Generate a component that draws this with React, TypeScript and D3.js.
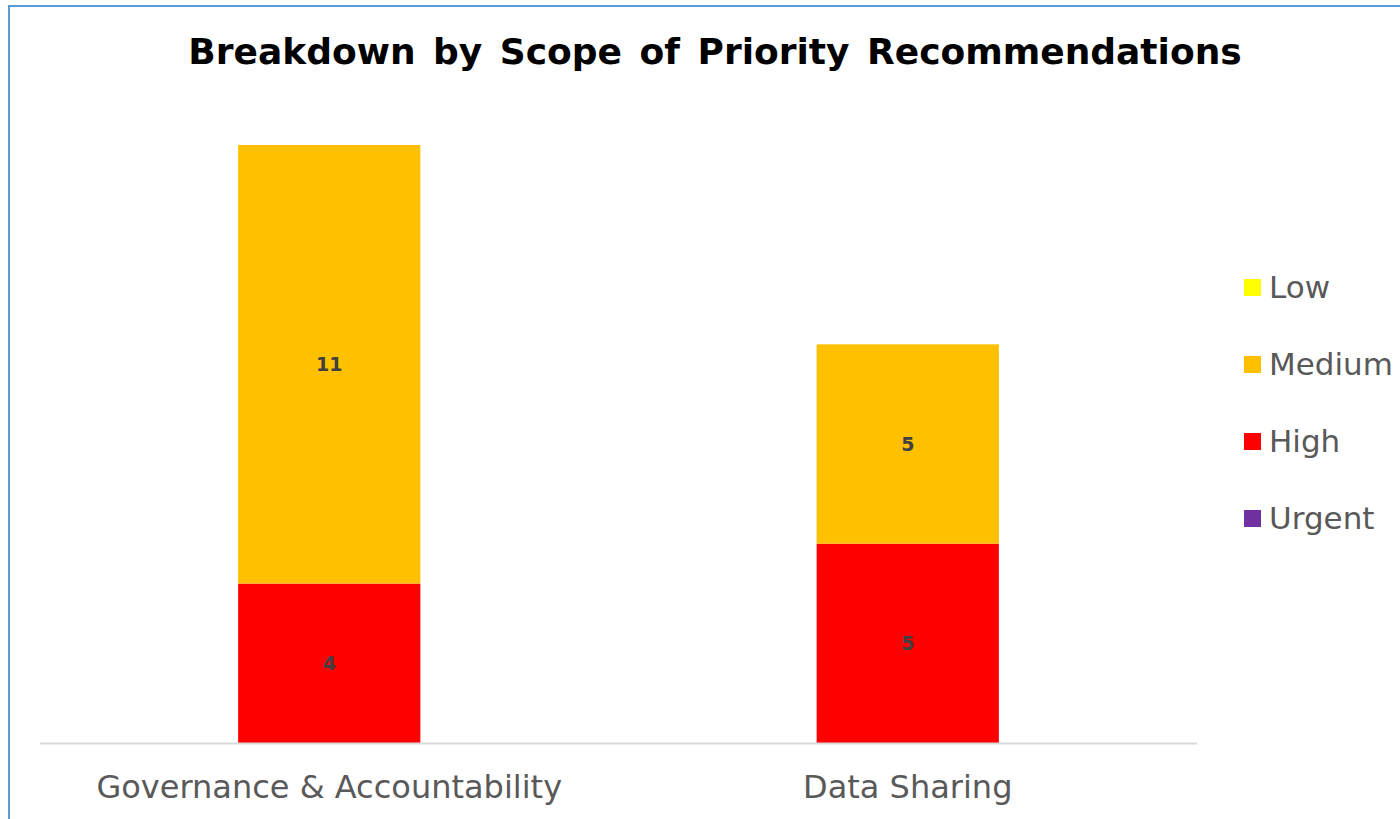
import { useEffect, useRef } from "react";
import * as d3 from "d3";

const categories = ["Governance & Accountability", "Data Sharing"];
const series = ["Urgent", "High", "Medium", "Low"];
const urgentValues = [0, 0];
const highValues = [4, 5];
const mediumValues = [11, 5];
const lowValues = [0, 0];
const legendOrder = ["Low", "Medium", "High", "Urgent"];
const colors: Record<string, string> = {
  Low: "#FFFF00",
  Medium: "#FFC000",
  High: "#FF0000",
  Urgent: "#7030A0",
};

const W = 1400;
const H = 819;

export default function App() {
  const svgRef = useRef<SVGSVGElement>(null);

  useEffect(() => {
    if (!svgRef.current) return;
    const svg = d3.select(svgRef.current);
    svg.selectAll("*").remove();

    const rows = categories.map((c, i) => ({
      category: c,
      Urgent: urgentValues[i],
      High: highValues[i],
      Medium: mediumValues[i],
      Low: lowValues[i],
    }));

    const font = "'DejaVu Sans', Verdana, sans-serif";

    // frame
    svg.append("rect")
      .attr("x", 9).attr("y", 6)
      .attr("width", W).attr("height", H)
      .attr("fill", "white")
      .attr("stroke", "#5B9BD5").attr("stroke-width", 2);

    // title
    svg.append("text")
      .attr("x", 715).attr("y", 64)
      .attr("text-anchor", "middle")
      .attr("font-family", font)
      .attr("font-weight", "bold")
      .attr("font-size", 36)
      .attr("word-spacing", 5)
      .attr("fill", "#000")
      .text("Breakdown by Scope of Priority Recommendations");

    const x = d3.scaleBand<string>().domain(categories).range([40, 1197]).padding(0);
    const y = d3.scaleLinear().domain([0, 15]).range([743, 145]);
    const barW = x.bandwidth() * 0.315;

    const stacked = d3.stack<any>().keys(series)(rows);

    const g = svg.append("g");
    stacked.forEach(layer => {
      const key = layer.key;
      layer.forEach((d, i) => {
        const v = d[1] - d[0];
        if (v <= 0) return;
        const cx = x(categories[i])! + x.bandwidth() / 2;
        g.append("rect")
          .attr("x", cx - barW / 2)
          .attr("y", y(d[1]))
          .attr("width", barW)
          .attr("height", y(d[0]) - y(d[1]))
          .attr("fill", colors[key]);
        g.append("text")
          .attr("x", cx)
          .attr("y", (y(d[0]) + y(d[1])) / 2)
          .attr("dy", "0.35em")
          .attr("text-anchor", "middle")
          .attr("font-family", font)
          .attr("font-weight", "bold")
          .attr("font-size", 19)
          .attr("fill", "#404040")
          .text(v);
      });
    });

    // axis line
    svg.append("line")
      .attr("x1", 40).attr("x2", 1197)
      .attr("y1", 743.5).attr("y2", 743.5)
      .attr("stroke", "#D9D9D9").attr("stroke-width", 2);

    // category labels
    categories.forEach(c => {
      svg.append("text")
        .attr("x", x(c)! + x.bandwidth() / 2)
        .attr("y", 798)
        .attr("text-anchor", "middle")
        .attr("font-family", font)
        .attr("font-size", 32)
        .attr("fill", "#595959")
        .text(c);
    });

    // legend
    legendOrder.forEach((k, i) => {
      const ly = 287 + i * 77;
      svg.append("rect")
        .attr("x", 1244).attr("y", ly - 8)
        .attr("width", 17).attr("height", 17)
        .attr("fill", colors[k]);
      svg.append("text")
        .attr("x", 1269).attr("y", ly)
        .attr("dy", "0.35em")
        .attr("font-family", font)
        .attr("font-size", 31)
        .attr("fill", "#595959")
        .text(k);
    });
  }, []);

  return (
    <div style={{ position: "fixed", left: 0, top: 0, width: W, height: H, background: "white" }}>
      <svg ref={svgRef} width={W} height={H} style={{ display: "block" }} />
    </div>
  );
}
